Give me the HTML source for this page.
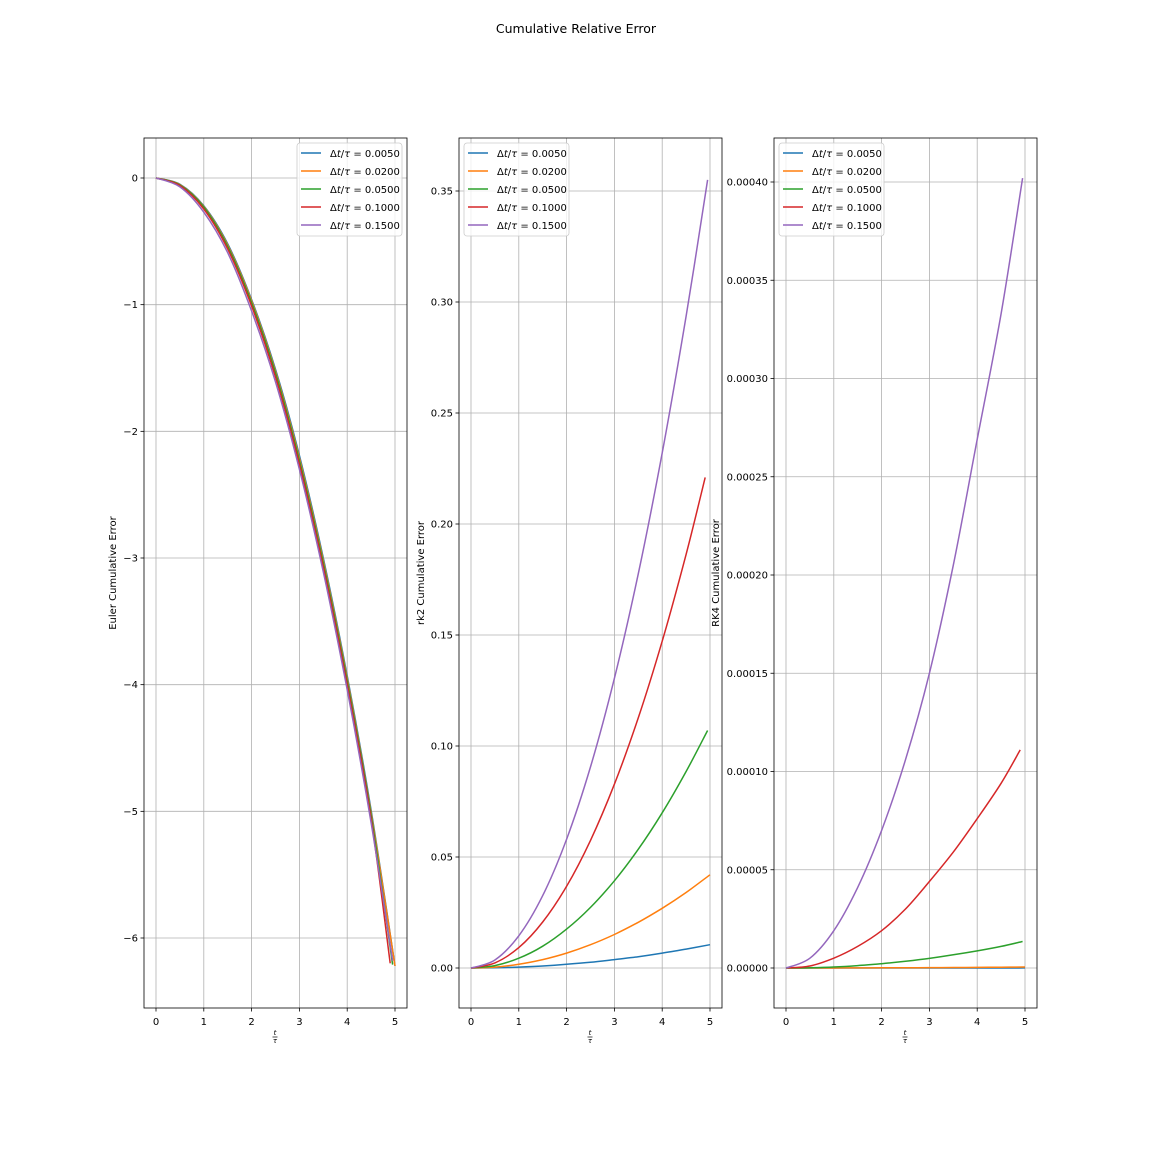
<!DOCTYPE html>
<html><head><meta charset="utf-8"><style>
body{margin:0;background:#fff}
svg text{font-family:"DejaVu Sans","Liberation Sans",sans-serif;fill:#000}
</style></head><body>
<svg id="fig" width="1152" height="1152" viewBox="0 0 1152 1152" xmlns="http://www.w3.org/2000/svg">
<rect width="1152" height="1152" fill="#fff"/>
<text x="576" y="33" text-anchor="middle" font-size="12.5">Cumulative Relative Error</text>
</svg>
<script>
const colors=["#1f77b4","#ff7f0e","#2ca02c","#d62728","#9467bd"];
const legendLabels=["0.0050","0.0200","0.0500","0.1000","0.1500"];
const tGrid=[0,0.5,1,1.5,2,2.5,3,3.5,4,4.5];
const tEnds=[5,5,4.95,4.9,4.95];
const xTicks=[0,1,2,3,4,5];
// Euler
const eulerBlue=[0,-0.05,-0.22,-0.52,-0.96,-1.51,-2.19,-3.00,-3.93,-4.99,-6.22];
const eulerOrange=[0,-0.052,-0.225,-0.53,-0.97,-1.525,-2.21,-3.02,-3.95,-5.01,-6.22];
const eulerGreen=[0,-0.055,-0.23,-0.54,-0.985,-1.54,-2.23,-3.04,-3.97,-5.03,-6.21];
const eulerRed=[0,-0.06,-0.245,-0.56,-1.01,-1.57,-2.26,-3.07,-4.0,-5.06,-6.20];
const eulerPurple=[0,-0.07,-0.27,-0.59,-1.05,-1.61,-2.30,-3.11,-4.04,-5.09,-6.18];
const eulerTicks=[0,-1,-2,-3,-4,-5,-6];
const eulerTickLabels=["0","\u22121","\u22122","\u22123","\u22124","\u22125","\u22126"];
// rk2
const rk2Blue=[0,0.0001,0.0004,0.0009,0.0017,0.0026,0.0038,0.0051,0.0067,0.0085,0.0105];
const rk2Orange=[0,0.0004,0.0017,0.0038,0.0067,0.0105,0.0151,0.0206,0.0269,0.034,0.042];
const rk2Green=[0,0.0011,0.0044,0.0098,0.0175,0.0273,0.0393,0.0535,0.0699,0.0885,0.107];
const rk2Red=[0,0.0023,0.0092,0.0207,0.0368,0.0575,0.0828,0.1127,0.1472,0.1863,0.221];
const rk2Purple=[0,0.0036,0.0145,0.0326,0.058,0.0906,0.1305,0.1776,0.232,0.2936,0.355];
const rk2Ticks=[0,0.05,0.1,0.15,0.2,0.25,0.3,0.35];
const rk2TickLabels=["0.00","0.05","0.10","0.15","0.20","0.25","0.30","0.35"];
// RK4 (values x1e-4)
const rk4Blue=[0,0,0,0,0,0,0,0,0,0,0.0003];
const rk4Orange=[0,0,0.0002,0.0005,0.0008,0.0013,0.0018,0.0025,0.0032,0.004,0.005];
const rk4Green=[0,0.001,0.005,0.012,0.022,0.034,0.049,0.067,0.087,0.11,0.135];
const rk4Red=[0,0.01,0.05,0.11,0.19,0.30,0.44,0.59,0.76,0.94,1.11];
const rk4Purple=[0,0.05,0.19,0.41,0.70,1.06,1.5,2.05,2.69,3.33,4.02];
const rk4Ticks=[0,0.5,1,1.5,2,2.5,3,3.5,4];
const rk4TickLabels=["0.00000","0.00005","0.00010","0.00015","0.00020","0.00025","0.00030","0.00035","0.00040"];

const NS="http://www.w3.org/2000/svg";
const svg=document.getElementById('fig');
function mk(tag,attrs,parent){const e=document.createElementNS(NS,tag);for(const k in attrs)e.setAttribute(k,attrs[k]);(parent||svg).appendChild(e);return e;}
function smoothPath(P){
 let d='M'+P[0][0].toFixed(1)+','+P[0][1].toFixed(1);
 for(let i=0;i<P.length-1;i++){
  const p0=P[i>0?i-1:i],p1=P[i],p2=P[i+1],p3=P[i+2<P.length?i+2:i+1];
  const c1=[p1[0]+(p2[0]-p0[0])/6,p1[1]+(p2[1]-p0[1])/6];
  const c2=[p2[0]-(p3[0]-p1[0])/6,p2[1]-(p3[1]-p1[1])/6];
  d+=' C'+c1.map(v=>v.toFixed(1)).join(',')+' '+c2.map(v=>v.toFixed(1)).join(',')+' '+p2.map(v=>v.toFixed(1)).join(',');
 }
 return d;
}

const panels=[
 {name:"euler",left:144,series:[eulerBlue,eulerOrange,eulerGreen,eulerRed,eulerPurple],ticks:eulerTicks,labels:eulerTickLabels,y0v:0,y0p:178,y1v:-6,y1p:938,ylabel:"Euler Cumulative Error",ylx:116,legX:297},
 {name:"rk2",left:459,series:[rk2Blue,rk2Orange,rk2Green,rk2Red,rk2Purple],ticks:rk2Ticks,labels:rk2TickLabels,y0v:0,y0p:968,y1v:0.35,y1p:191,ylabel:"rk2 Cumulative Error",ylx:424,legX:464},
 {name:"rk4",left:774,series:[rk4Blue,rk4Orange,rk4Green,rk4Red,rk4Purple],ticks:rk4Ticks,labels:rk4TickLabels,y0v:0,y0p:968,y1v:4,y1p:182,ylabel:"RK4 Cumulative Error",ylx:719,legX:779}
];
const axTop=138,axBottom=1008,axW=263;
panels.forEach(p=>{
 const g=mk('g',{});
 
 
 const xs=v=>p.left+12+v*47.8;
 const ys=v=>p.y0p+(v-p.y0v)*(p.y1p-p.y0p)/(p.y1v-p.y0v);
 xTicks.forEach(t=>{
  const l=mk('line',{x1:xs(t),x2:xs(t),y1:axTop,y2:axBottom,stroke:'#b0b0b0','stroke-width':0.8},g);
  
  
  mk('line',{x1:xs(t),x2:xs(t),y1:axBottom,y2:axBottom+3.5,stroke:'#000','stroke-width':0.8},g);
  const tx=mk('text',{x:xs(t),y:axBottom+17,'text-anchor':'middle','font-size':10},g);
  tx.textContent=t;
  
  
 });
 p.ticks.forEach((t,i)=>{
  const l=mk('line',{x1:p.left,x2:p.left+axW,y1:ys(t),y2:ys(t),stroke:'#b0b0b0','stroke-width':0.8},g);
  
  
  mk('line',{x1:p.left-3.5,x2:p.left,y1:ys(t),y2:ys(t),stroke:'#000','stroke-width':0.8},g);
  const tx=mk('text',{x:p.left-6,y:ys(t)+3.5,'text-anchor':'end','font-size':10},g);
  tx.textContent=p.labels[i];
  
  
 });
 p.series.forEach((s,si)=>{
  const ts=tGrid.concat([tEnds[si]]);
  const P=s.map((v,i)=>[xs(ts[i]),ys(v)]);
  const pl=mk('path',{d:smoothPath(P),fill:'none',stroke:colors[si],'stroke-width':1.5,'stroke-linejoin':'round'},g);
  
  
 });
 const fr=mk('rect',{x:p.left,y:axTop,width:axW,height:axBottom-axTop,fill:'none',stroke:'#000','stroke-width':0.8},g);
 
 
 const xl=mk('text',{x:p.left+131,y:1035,'text-anchor':'middle','font-size':7,'font-style':'italic'},g);
 xl.textContent='t';
 
 
 mk('line',{x1:p.left+128.5,x2:p.left+133.5,y1:1037,y2:1037,stroke:'#000','stroke-width':0.7},g);
 const xl2=mk('text',{x:p.left+131,y:1043,'text-anchor':'middle','font-size':7,'font-style':'italic'},g);
 xl2.textContent='τ';
 
 
 const yl=mk('text',{x:p.ylx,y:573,'text-anchor':'middle','font-size':10,transform:'rotate(-90 '+p.ylx+' 573)'},g);
 yl.textContent=p.ylabel;
 
 
 const lg=mk('g',{},g);
 
 
 mk('rect',{x:p.legX,y:143,width:105,height:93,rx:3,fill:'#fff','fill-opacity':0.8,stroke:'#ccc','stroke-width':0.8},lg);
 legendLabels.forEach((lab,i)=>{
  const y=153+i*18;
  const e=mk('g',{},lg);
  
  
  mk('line',{x1:p.legX+4,x2:p.legX+24,y1:y,y2:y,stroke:colors[i],'stroke-width':1.5},e);
  const t=mk('text',{x:p.legX+33,y:y+4,'font-size':10},e);
  const a=mk('tspan',{},t); a.textContent='Δ';
  const b=mk('tspan',{'font-style':'italic'},t); b.textContent='t';
  const c=mk('tspan',{},t); c.textContent='/';
  const d=mk('tspan',{'font-style':'italic'},t); d.textContent='τ';
  const f=mk('tspan',{},t); f.textContent=' = '+lab;
 });
});
</script>
</body></html>
